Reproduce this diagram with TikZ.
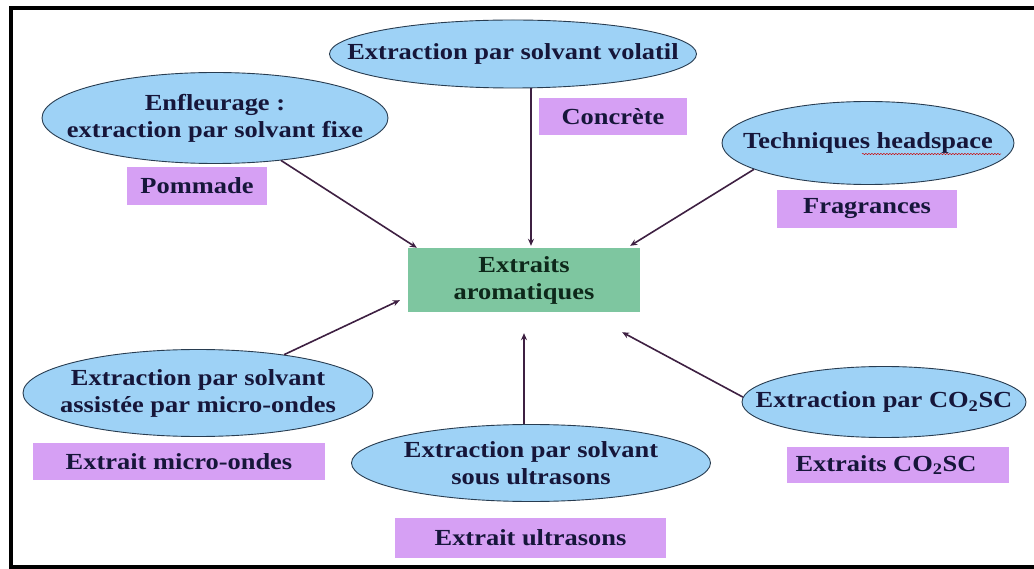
\documentclass[tikz,border=0pt]{standalone}
\usepackage{fontspec}
\setmainfont{Liberation Serif}[FakeStretch=1.15]
\usetikzlibrary{shapes.geometric,arrows.meta,calc,decorations.pathmorphing}
\definecolor{ellfill}{RGB}{158,210,246}
\definecolor{elldraw}{RGB}{40,60,80}
\definecolor{purp}{RGB}{214,160,244}
\definecolor{grn}{RGB}{126,198,160}
\definecolor{txt}{RGB}{22,22,58}
\definecolor{gtxt}{RGB}{14,40,26}
\definecolor{arr}{RGB}{62,32,66}
\tikzset{
  ell/.style={ellipse,draw=elldraw,line width=0.9pt,fill=ellfill,inner sep=0pt},
  etext/.style={align=center,text=txt,inner sep=0pt},
  pbox/.style={fill=purp,inner sep=0pt,text=txt},
  gbox/.style={fill=grn,inner sep=0pt,align=center,text=gtxt},
  conn/.style={draw=arr,line width=1.6pt,-{Stealth[length=7pt,width=6pt]}},
  every node/.style={font=\fontsize{23}{27}\selectfont\bfseries}
}
\begin{document}
\begin{tikzpicture}[x=1pt,y=-1pt]
\useasboundingbox[fill=white] (0,0) rectangle (1034,569);
\begin{scope}
\clip (0,0) rectangle (1034,569);
\draw[line width=4pt,black] (10.5,8) rectangle (1045,567);
\end{scope}
% ellipses
\node[ell,minimum width=367pt,minimum height=68pt] (top) at (513,54) {};
\node[etext] (topt) at (top.center) {Extraction par solvant volatil};
\node[ell,minimum width=346pt,minimum height=91pt] (enf) at (215,118) {};
\node[etext] (enft) at (enf.center) {Enfleurage :\\extraction par solvant fixe};
\node[ell,minimum width=292pt,minimum height=83pt] (hs) at (868,143) {};
\node[etext] (hst) at (hs.center) {Techniques headspace};
\node[ell,minimum width=350pt,minimum height=87pt] (mw) at (198,393) {};
\node[etext] (mwt) at (mw.center) {Extraction par solvant\\assistée par micro-ondes};
\node[ell,minimum width=359pt,minimum height=77pt] (us) at (531,463) {};
\node[etext] (ust) at (us.center) {Extraction par solvant\\sous ultrasons};
\node[ell,minimum width=284pt,minimum height=71pt] (co) at (884,402) {};
\node[etext] (cot) at (co.center) {Extraction par CO\textsubscript{2}SC};
% purple boxes
\node[pbox,minimum width=140pt,minimum height=38pt] (pom) at (197,186) {Pommade};
\node[pbox,minimum width=148pt,minimum height=37pt] (conc) at (613,116.5) {Concrète};
\node[pbox,minimum width=180pt,minimum height=38pt] (frag) at (867,209) {Fragrances};
\node[pbox,minimum width=292pt,minimum height=37pt] (emw) at (179,461.5) {Extrait micro-ondes};
\node[pbox,minimum width=271pt,minimum height=40pt] (eus) at (530.5,538) {Extrait ultrasons};
\node[pbox,minimum width=222pt,minimum height=36pt] (eco) at (898,465) {Extraits CO\textsubscript{2}SC\hspace*{24pt}};
% green box
\node[gbox,minimum width=232pt,minimum height=64pt] (green) at (524,280) {Extraits\\aromatiques};
% spell-check underline
\draw[red!80!black,line width=0.5pt,decorate,decoration={snake,amplitude=0.6pt,segment length=3pt}]
  ($(hs.center)+(-6,11)$) -- ($(hs.center)+(133,11)$);
% connectors
\draw[conn] (enf) -- ($(green.north west)+(9,0)$);
\draw[conn] ($(top.south)+(18,0)$) -- ($(green.north)+(7,-2)$);
\draw[conn] (hs.193) -- ($(green.north east)+(-10,-2)$);
\draw[conn] (mw.24) -- ($(green.south west)+(-8,-12)$);
\draw[conn] (us.north -| green.south) -- ($(green.south)+(0,21)$);
\draw[conn] (co.178) -- ($(green.south east)+(-18,20)$);
\end{tikzpicture}
\end{document}
